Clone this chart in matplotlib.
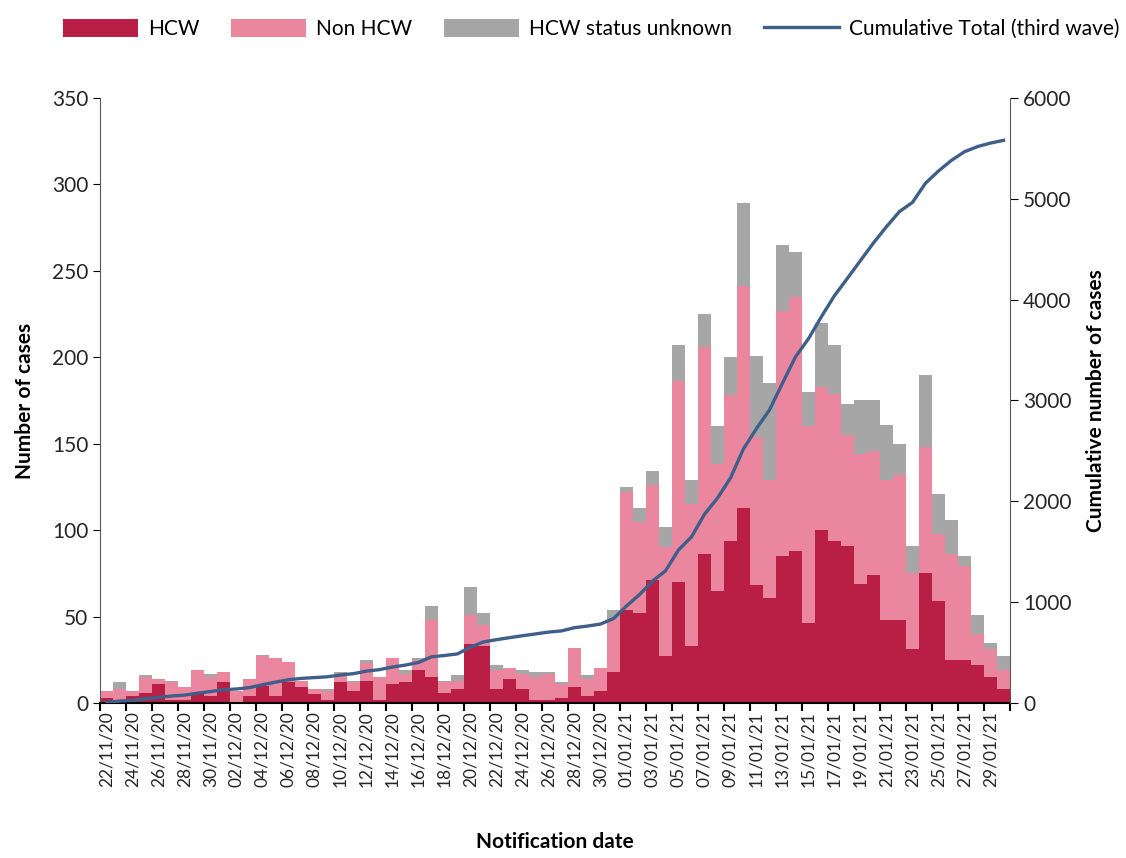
import numpy as np
import pandas as pd
import matplotlib
matplotlib.use("Agg")
import matplotlib.pyplot as plt
from matplotlib.ticker import FixedLocator

plt.rcParams['font.family'] = ['Lato', 'DejaVu Sans']

dates = pd.date_range('2020-11-22', '2021-01-30', freq='D')
labels = [d.strftime('%d/%m/%y') for d in dates]

hcw = [3, 1, 4, 6, 11, 2, 2, 5, 4, 12, 0, 4, 10, 4, 12, 9, 5, 2, 12, 7,
       13, 2, 11, 12, 19, 15, 6, 8, 34, 33, 8, 14, 8, 2, 2, 3, 9, 4, 7, 18,
       54, 52, 71, 27, 70, 33, 86, 65, 94, 113, 68, 61, 85, 88, 46, 100, 94, 91, 69, 74,
       48, 48, 31, 75, 59, 25, 25, 22, 15, 8]
non_hcw = [4, 7, 3, 9, 3, 10, 7, 14, 11, 6, 7, 10, 17, 22, 12, 4, 3, 5, 4, 5,
           10, 13, 15, 5, 6, 33, 6, 5, 17, 12, 11, 6, 9, 13, 15, 8, 23, 10, 13, 31,
           68, 53, 55, 63, 116, 82, 120, 73, 84, 128, 86, 68, 142, 147, 114, 83, 85, 64, 75, 72,
           81, 84, 44, 73, 39, 61, 54, 18, 16, 11]
unknown = [0, 4, 0, 1, 0, 1, 0, 0, 2, 0, 0, 0, 1, 0, 0, 0, 0, 1, 2, 1,
           2, 0, 0, 2, 1, 8, 1, 3, 16, 7, 3, 0, 2, 3, 1, 1, 0, 2, 0, 5,
           3, 8, 8, 12, 21, 14, 19, 22, 22, 48, 47, 56, 38, 26, 20, 37, 28, 18, 31, 29,
           32, 18, 16, 42, 23, 20, 6, 11, 4, 8]

hcw = np.array(hcw)
non_hcw = np.array(non_hcw)
unknown = np.array(unknown)
cumulative = np.cumsum(hcw + non_hcw + unknown)

x = np.arange(len(dates))

fig = plt.figure(figsize=(11.26, 8.58), dpi=100)
ax = fig.add_axes([100/1126, 1 - 703/858, 910/1126, 605/858])

b1 = ax.bar(x, hcw, width=1.0, color='#B91F44', label='HCW')
b2 = ax.bar(x, non_hcw, width=1.0, bottom=hcw, color='#EA879F', label='Non HCW')
b3 = ax.bar(x, unknown, width=1.0, bottom=hcw + non_hcw, color='#A6A6A6', label='HCW status unknown')

ax.set_xlim(-0.5, len(x) - 0.5)
ax.set_ylim(0, 350)
ax.set_yticks(range(0, 351, 50))

ax.set_xticks(x[::2])
ax.set_xticklabels(labels[::2], rotation=90, fontsize=12.5, color='#262626')
ax.tick_params(axis='x', which='major', length=0, pad=6)
ax.xaxis.set_minor_locator(FixedLocator(np.arange(-0.5, len(x), 2)))
ax.tick_params(axis='x', which='minor', length=6, width=1.5, direction='out')
ax.tick_params(axis='y', labelsize=15, labelcolor='#262626', length=5, direction='out')

ax.spines['top'].set_visible(False)
ax.spines['right'].set_visible(False)
ax.spines['bottom'].set_linewidth(1.5)
ax.spines['left'].set_color('#595959')

ax.set_ylabel('Number of cases', fontsize=15, fontweight='bold', labelpad=12)
ax.set_xlabel('Notification date', fontsize=15, fontweight='bold', labelpad=32)

ax2 = ax.twinx()
line, = ax2.plot(x, cumulative, color='#3F5F8A', linewidth=2.4, label='Cumulative Total (third wave)')
ax2.set_ylim(0, 6000)
ax2.set_yticks(range(0, 6001, 1000))
ax2.tick_params(axis='y', labelsize=15, labelcolor='#262626', length=6, direction='out')
ax2.spines['top'].set_visible(False)
ax2.spines['left'].set_visible(False)
ax2.spines['bottom'].set_visible(False)
ax2.spines['right'].set_color('#595959')
ax2.set_ylabel('Cumulative number of cases', fontsize=15, fontweight='bold', labelpad=10)

fig.legend(handles=[b1, b2, b3, line], loc='upper center', bbox_to_anchor=(0.525, 1.0),
           ncol=4, frameon=False, fontsize=15, handlelength=3.6, handleheight=1.0,
           columnspacing=1.5, handletextpad=0.5)

fig.savefig('out.png', dpi=100)
